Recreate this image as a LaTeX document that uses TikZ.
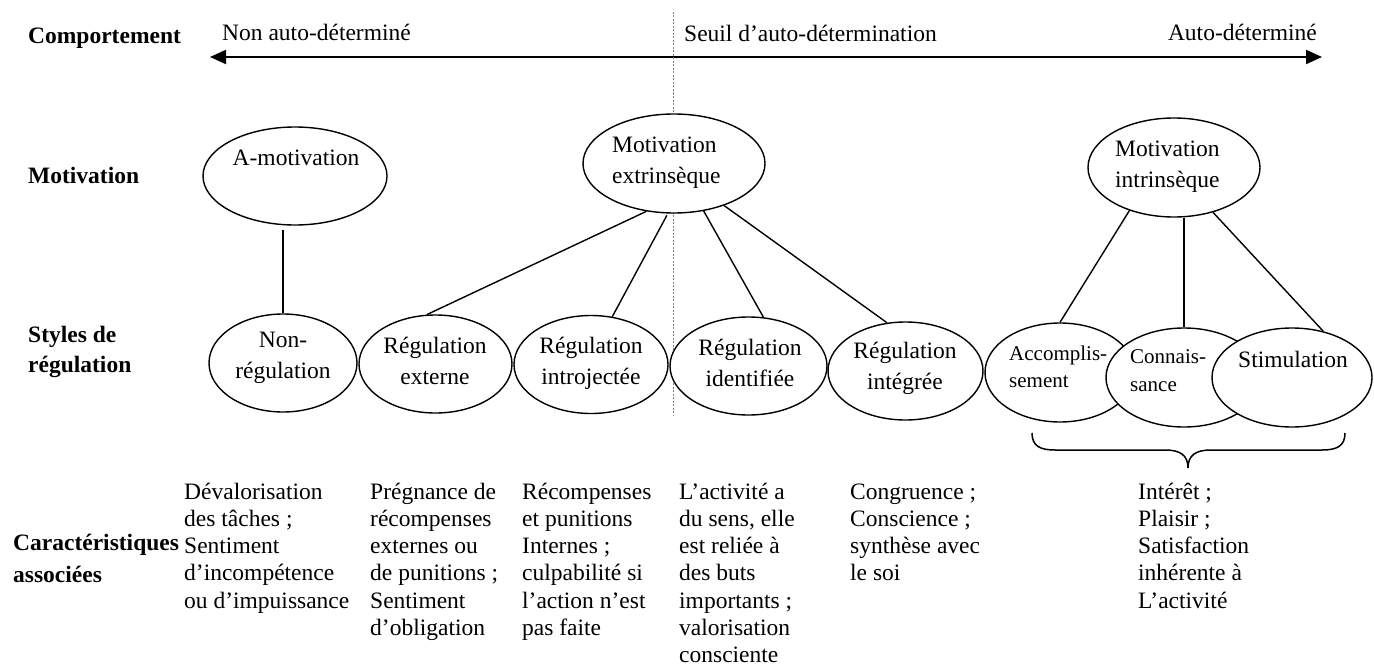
\documentclass[tikz,border=0pt]{standalone}
\usepackage{fontspec}
\setmainfont{Liberation Serif}
\usetikzlibrary{shapes.geometric,arrows.meta}
\begin{document}
\begin{tikzpicture}[x=1pt,y=-1pt,
  ell/.style={ellipse, draw, line width=1.4pt, inner sep=0pt, fill=white},
  lbl/.style={font=\fontsize{23.5}{27.5}\selectfont\bfseries, anchor=base west, inner sep=0pt},
  lblm/.style={font=\bfseries, anchor=north west, inner sep=0pt, align=left},
  txt/.style={font=\fontsize{23.5}{27.5}\selectfont, inner sep=0pt},
  etxt/.style={font=\fontsize{23.5}{31}\selectfont, inner sep=0pt, align=center, anchor=north},
  etxl/.style={font=\fontsize{23.5}{31}\selectfont, inner sep=0pt, align=left, anchor=north west},
  para/.style={font=\fontsize{23.5}{27.2}\selectfont, inner sep=0pt, align=left, anchor=north west},
  conn/.style={line width=1.4pt},
]
\useasboundingbox (0,0) rectangle (1374,669);

% row labels
\node[lbl] (lcomp) at (28,44) {Comportement};
\node[lbl] (lmot) at (28,183) {Motivation};
\node[lblm, font=\fontsize{23.5}{30}\selectfont\bfseries] (lstyle) at (28,321) {\strut Styles de\\régulation};
\node[lblm, font=\fontsize{23.5}{32}\selectfont\bfseries] (lcar) at (13,527.6) {\strut Caractéristiques\\associées};

% top arrow
\coordinate (arrL) at (210,57);
\coordinate (arrR) at (1322,57);
\draw[line width=2pt, {Triangle[length=16pt,width=14pt]}-{Triangle[length=16pt,width=14pt]}] (arrL) -- (arrR);
\node[txt, anchor=base west] (tnon) at (222,41) {Non auto-déterminé};
\node[txt, anchor=base west] (tseuil) at (684,42) {Seuil d’auto-détermination};
\node[txt, anchor=base east] (tauto) at (1317,41) {Auto-déterminé};

% threshold dashed line
\coordinate (dTop) at (673,12);
\coordinate (dBot) at (673,415);
\draw[gray, line width=0.6pt, dash pattern=on 2pt off 1.5pt] (dTop) -- (dBot);

% top ellipses
\node[ell, minimum width=184pt, minimum height=98pt] (amot) at (295,176) {};
\node[ell, minimum width=182pt, minimum height=99pt] (mext) at (674,163.5) {};
\node[ell, minimum width=172pt, minimum height=99pt] (mintr) at (1174,167.5) {};

% lower ellipses
\node[ell, minimum width=148pt, minimum height=98pt] (nonreg) at (283,363) {};
\node[ell, minimum width=153pt, minimum height=98pt] (rext) at (435.5,364) {};
\node[ell, minimum width=154pt, minimum height=98pt] (rintro) at (591,364.5) {};
\node[ell, minimum width=157pt, minimum height=98pt] (rident) at (748.5,366) {};
\node[ell, minimum width=155pt, minimum height=98pt] (rinteg) at (905.5,371) {};
\node[ell, minimum width=150pt, minimum height=99pt] (acc) at (1060,372.5) {};
\node[ell, minimum width=156pt, minimum height=99pt] (conn) at (1184,377.5) {};
\node[ell, minimum width=160pt, minimum height=99pt] (stim) at (1292,377.5) {};

% ellipse texts
\node[txt, anchor=base] (tamot) at (296,165) {A-motivation};
\node[etxl] (tmext) at (612,130.3) {\strut Motivation\\extrinsèque};
\node[etxl] (tmintr) at (1115,134.3) {\strut Motivation\\intrinsèque};
\node[etxt] (tnonreg) at (283,325.3) {\strut Non-\\régulation};
\node[etxt] (trext) at (435,331.3) {\strut Régulation\\externe};
\node[etxt] (trintro) at (591,331.3) {\strut Régulation\\introjectée};
\node[etxt] (trident) at (750,333.3) {\strut Régulation\\identifiée};
\node[etxt] (trinteg) at (905,336.3) {\strut Régulation\\intégrée};
\node[etxl, font=\fontsize{21}{27}\selectfont] (tacc) at (1009,341.1) {\strut Accomplis-\\sement};
\node[etxl, font=\fontsize{21}{28}\selectfont] (tconn) at (1130,343.4) {\strut Connais-\\sance};
\node[txt, anchor=base west] (tstim) at (1238,367) {Stimulation};

% connectors
\draw[conn, shorten <=4pt] (nonreg.north |- amot.south) -- (nonreg.north);
\draw[conn] (mext.240) -- (rext.100);
\draw[conn, shorten <=2pt] (mext.263) -- (rintro.66);
\draw[conn] (mext.302) -- (rident.73);
\draw[conn] (mext.320) -- (rinteg.111);
\draw[conn] (mintr.224) -- (acc.north);
\draw[conn] (conn.north |- mintr.south) -- (conn.north);
\draw[conn] (mintr.311) -- (stim.56);

% brace
\coordinate (bL) at (1032,433);
\coordinate (bR) at (1345,433);
\coordinate (bTip) at (1188,468);
\draw[line width=1.5pt] (bL) .. controls (1032,446) and (1040,450) .. (1055,450) -- (1165,450)
  .. controls (1180,450) and (1188,455) .. (bTip)
  .. controls (1188,455) and (1196,450) .. (1211,450) -- (1322,450)
  .. controls (1337,450) and (1345,446) .. (bR);

% characteristics
\node[para] (c1) at (184,480) {\strut Dévalorisation\\des tâches ;\\Sentiment\\d’incompétence\\ou d’impuissance};
\node[para] (c2) at (370,480) {\strut Prégnance de\\récompenses\\externes ou\\de punitions ;\\Sentiment\\d’obligation};
\node[para] (c3) at (522,480) {\strut Récompenses\\et punitions\\Internes ;\\culpabilité si\\l’action n’est\\pas faite};
\node[para] (c4) at (679,480) {\strut L’activité a\\du sens, elle\\est reliée à\\des buts\\importants ;\\valorisation\\consciente};
\node[para] (c5) at (850,480) {\strut Congruence ;\\Conscience ;\\synthèse avec\\le soi};
\node[para] (c6) at (1138,480) {\strut Intérêt ;\\Plaisir ;\\Satisfaction\\inhérente à\\L’activité};
\end{tikzpicture}
\end{document}
